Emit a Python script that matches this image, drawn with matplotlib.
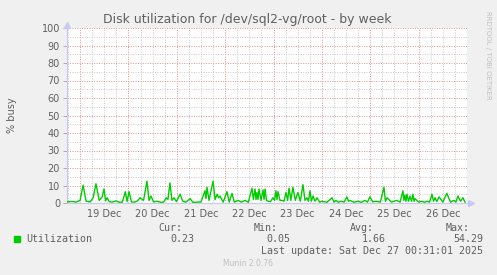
import numpy as np
import matplotlib.pyplot as plt

# data (hours after 19 Dec 00:00, % busy)
horas = [-6.5, -4, -2, 0, 1.5, 3, 5, 6.5, 7.9, 9.5, 11, 11.9, 12.7, 13.4, 14.5, 16, 17.9, 19.5, 21, 22.5, 23.3, 24.3,
         25.5, 27, 28.5, 29.8, 31.5, 33.2, 34.2, 35.2, 36.5, 38.2, 40, 41.5, 42.7, 43.6, 44.6, 45.6, 46.6, 47.8,
         49.6, 51, 52.5, 54.6, 56, 58, 60, 62, 62.5, 63, 64, 66, 67, 68, 68.7, 69.4, 71,
         72.9, 74, 75.4, 76.5, 78.4, 80, 81.8, 83.5, 85.3, 86, 86.8, 87.3, 87.8, 88.3, 88.8, 89.8, 90.8, 91.3, 91.8, 92.5, 93.2, 94.5, 95.7,
         96.5, 97.2, 97.7, 98.2, 99.2, 100.2, 101.2, 102.2, 103, 103.7, 104.6, 105.6, 106.8, 108.1, 109.3, 110.6, 111.6, 112.6, 113.3, 114.1, 114.8, 115.6, 116.6, 117.6, 118.8, 120,
         122.5, 125, 126, 127, 128.2, 129.5, 131, 132.4, 133.2, 133.9, 136, 137.9, 139.5, 141.4, 142.6, 143.8,
         145.3, 146.8, 149, 150.8, 151.5, 152.3, 154.5, 157.2, 158.8, 160.2, 160.7, 161.2, 161.7, 162.2, 163, 163.7, 164.5, 165.2, 165.7, 166.2,
         168, 169.6, 171, 172.1, 173.4, 174.6, 175.4, 176.1, 177, 178.1, 180, 182, 183.8, 185.5, 186.5, 187.5, 188.8, 190, 191]
busy = [0.6, 0.9, 0.5, 1.5, 10.2, 1.0, 0.6, 3.0, 11.0, 1.5, 3.5, 8.0, 1.2, 3.0, 0.8, 0.5, 1.2, 0.4, 0.5, 6.5, 0.8, 6.5,
        0.6, 0.5, 1.2, 3.0, 1.5, 12.5, 1.5, 4.0, 0.6, 1.0, 0.4, 0.5, 3.0, 2.0, 11.5, 1.5, 3.0, 0.8,
        5.0, 1.0, 0.5, 2.5, 0.4, 0.5, 0.6, 7.0, 2.5, 9.0, 1.5, 12.5, 2.0, 5.0, 3.0, 4.0, 0.5,
        6.5, 0.5, 5.5, 0.5, 1.5, 0.5, 1.5, 0.4, 8.5, 2.0, 8.0, 2.0, 6.0, 2.0, 8.0, 1.5, 7.5, 2.0, 8.0, 1.5, 1.0, 0.8, 3.0,
        1.5, 7.0, 2.0, 6.5, 1.5, 1.5, 1.0, 6.0, 1.5, 8.5, 1.5, 9.0, 1.5, 6.0, 1.0, 10.5, 1.5, 3.0, 1.0, 7.0, 1.0, 4.0, 1.0, 3.0, 0.5, 1.0,
        0.4, 3.0, 0.5, 1.5, 0.4, 1.0, 0.5, 3.5, 1.0, 1.5, 0.4, 1.0, 0.4, 1.5, 0.5, 3.5,
        0.6, 1.0, 0.5, 9.0, 1.0, 3.0, 0.5, 1.5, 0.5, 7.0, 1.5, 4.5, 1.0, 5.0, 1.0, 4.0, 1.0, 5.0, 1.0, 2.5,
        0.5, 1.0, 0.4, 1.0, 0.5, 5.0, 1.0, 3.0, 0.8, 3.5, 0.5, 5.5, 0.5, 1.5, 0.5, 4.0, 1.0, 3.0, 0.5]

dias = [19, 20, 21, 22, 23, 24, 25, 26]
etiquetas = [str(d) + " Dec" for d in dias]
cabeceras = ["Cur:", "Min:", "Avg:", "Max:"]
valores = ["0.23", "0.05", "1.66", "54.29"]

gris = "#606060"
x = 19 + np.array(horas) / 24.0

fig = plt.figure(figsize=(4.97, 2.75), dpi=100, facecolor="#F0F0F0")
ax = fig.add_axes([67 / 497, 72 / 275, 400 / 497, 175 / 275])
ax.set_facecolor("white")

ax.set_xlim(18.73, 27.0)
ax.set_ylim(0, 100)

punteado = (0, (1, 1.5))
# grilla: menor cada 6 horas / 5 %, mayor cada dia / 10 %
for h in np.arange(18.75, 27.0, 0.25):
    if abs(h - round(h)) > 0.01:
        ax.axvline(h, color="#C8C8C8", lw=0.7, ls=punteado, zorder=1)
for d in range(19, 28):
    ax.axvline(d, color="#E49090", lw=0.7, ls=punteado, zorder=1)
for v in range(5, 100, 10):
    ax.axhline(v, color="#C8C8C8", lw=0.7, ls=punteado, zorder=1)
for v in range(10, 101, 10):
    ax.axhline(v, color="#E49090", lw=0.7, ls=punteado, zorder=1)

ax.plot(x, busy, color="#00CC00", lw=1.0, zorder=3)

ax.set_yticks(range(0, 101, 10))
ax.set_xticks([d + 0.5 for d in dias])
ax.set_xticklabels(etiquetas)
ax.tick_params(axis="x", length=0, labelsize=7, colors=gris, pad=4)
ax.tick_params(axis="y", length=3, width=0.6, color="#A0A0A0", labelsize=7, labelcolor=gris, pad=2)

for s in ["top", "right"]:
    ax.spines[s].set_visible(False)
for s in ["left", "bottom"]:
    ax.spines[s].set_color("#C8C8F0")
    ax.spines[s].set_linewidth(0.8)
ax.plot(0, 1.02, marker="^", color="#C8C8F0", ms=4, transform=ax.transAxes, clip_on=False)
ax.plot(1.01, 0, marker=">", color="#C8C8F0", ms=4, transform=ax.transAxes, clip_on=False)

fig.text(247 / 497, 1 - 19 / 275, "Disk utilization for /dev/sql2-vg/root - by week",
         ha="center", va="center", fontsize=9, color=gris)
fig.text(12 / 497, 1 - 115 / 275, "% busy", rotation=90, ha="center", va="center",
         fontsize=7, color=gris)
fig.text(488 / 497, 1 - 55 / 275, "RRDTOOL / TOBI OETIKER", rotation=270, ha="center",
         va="center", fontsize=5, color="#C0C0C0")

# leyenda estilo munin
mono = "DejaVu Sans Mono"
fig.patches.append(plt.Rectangle((14 / 497, 1 - 242 / 275), 6 / 497, 6 / 275,
                                 transform=fig.transFigure, color="#00CC00"))
fig.text(26 / 497, 1 - 239 / 275, "Utilization", family=mono, fontsize=7.2, color=gris, va="center")
for i in range(4):
    fig.text((182 + 96 * i) / 497, 1 - 228 / 275, cabeceras[i], family=mono, fontsize=7.2,
             color=gris, ha="right", va="center")
derechas = [194, 290, 386, 483]
for i in range(4):
    fig.text(derechas[i] / 497, 1 - 239 / 275, valores[i], family=mono, fontsize=7.2,
             color=gris, ha="right", va="center")
fig.text(483 / 497, 1 - 251 / 275, "Last update: Sat Dec 27 00:31:01 2025", family=mono,
         fontsize=7.2, color=gris, ha="right", va="center")
fig.text(248 / 497, 1 - 264 / 275, "Munin 2.0.76", fontsize=5.5, color="#C0C0C0",
         ha="center", va="center")

fig.savefig("out.png", dpi=100, facecolor=fig.get_facecolor())
